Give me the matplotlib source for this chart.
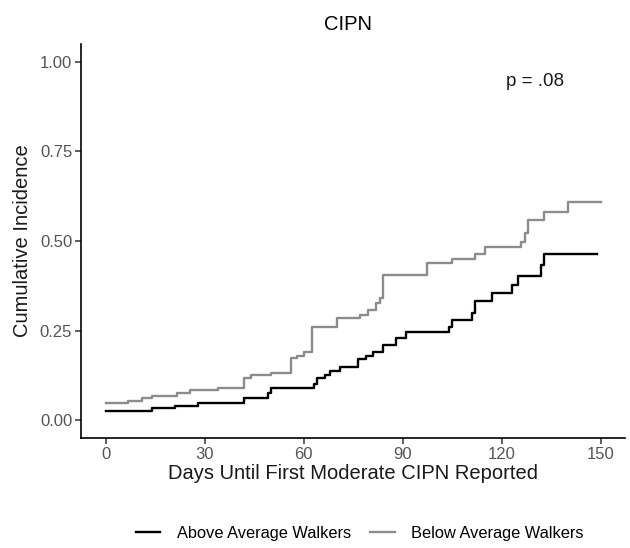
import numpy as np
import matplotlib
matplotlib.use("Agg")
import matplotlib.pyplot as plt

plt.rcParams['font.family'] = ['Liberation Sans', 'DejaVu Sans']

# step curves (days, cumulative incidence)
above_days = [0, 14, 21, 28, 42, 49, 50, 63, 64, 66.5, 68, 71, 76.5, 79, 81, 84, 88, 91,
              104, 105, 111, 112, 117, 123, 125, 132, 133, 149]
above_ci = [0.025, 0.034, 0.039, 0.047, 0.061, 0.075, 0.089, 0.10, 0.117, 0.126, 0.137, 0.148,
            0.17, 0.18, 0.19, 0.21, 0.23, 0.246, 0.26, 0.279, 0.299, 0.332, 0.355, 0.377,
            0.402, 0.433, 0.464, 0.464]

below_days = [0, 6.7, 11, 14, 21.5, 25.5, 34, 42, 44, 50, 56, 58, 60, 62.5, 70, 77, 79.5,
              82, 83, 84, 97.5, 105, 112, 115, 126, 127, 128, 133, 140, 150]
below_ci = [0.047, 0.053, 0.061, 0.067, 0.075, 0.084, 0.089, 0.117, 0.126, 0.131, 0.173,
            0.18, 0.19, 0.26, 0.285, 0.293, 0.307, 0.327, 0.34, 0.405, 0.438, 0.45, 0.464,
            0.483, 0.497, 0.522, 0.559, 0.581, 0.609, 0.609]

x_ticks = [0, 30, 60, 90, 120, 150]
y_ticks = [0.0, 0.25, 0.5, 0.75, 1.0]
y_labels = ['0.00', '0.25', '0.50', '0.75', '1.00']

fig = plt.figure(figsize=(6.3, 5.48), dpi=100)
ax = fig.add_axes([0.129, 0.2007, 0.8635, 0.719])

ax.plot(above_days, above_ci, drawstyle='steps-post', color='black', lw=1.7,
        label='Above Average Walkers')
ax.plot(below_days, below_ci, drawstyle='steps-post', color='#8c8c8c', lw=1.7,
        label='Below Average Walkers')

ax.set_xlim(-7.5, 157.5)
ax.set_ylim(-0.05, 1.05)
ax.set_xticks(x_ticks)
ax.set_yticks(y_ticks)
ax.set_yticklabels(y_labels)

for s in ['top', 'right']:
    ax.spines[s].set_visible(False)
for s in ['left', 'bottom']:
    ax.spines[s].set_linewidth(1.2)
ax.tick_params(axis='both', colors='#333333', labelcolor='#555555', labelsize=12,
               length=4, width=1.1, pad=2.5)

ax.set_xlabel('Days Until First Moderate CIPN Reported', fontsize=14.5, color='#1a1a1a')
ax.set_ylabel('Cumulative Incidence', fontsize=14.5, color='#1a1a1a')
ax.xaxis.set_label_coords(0.5, -0.091)
ax.xaxis.label.set_va('center')
ax.yaxis.set_label_coords(-0.108, 0.5)
ax.yaxis.label.set_va('center')
ax.set_title('CIPN', fontsize=14.5, pad=10, x=0.49)

ax.text(130, 0.944, 'p = .08', fontsize=13.5, ha='center', va='center', color='#1a1a1a')

fig.legend(loc='center', bbox_to_anchor=(0.571, 0.027), ncol=2, frameon=False,
           fontsize=11.8, handlelength=1.5, handletextpad=1.0, columnspacing=1.2)

fig.savefig('out.png', dpi=100)
